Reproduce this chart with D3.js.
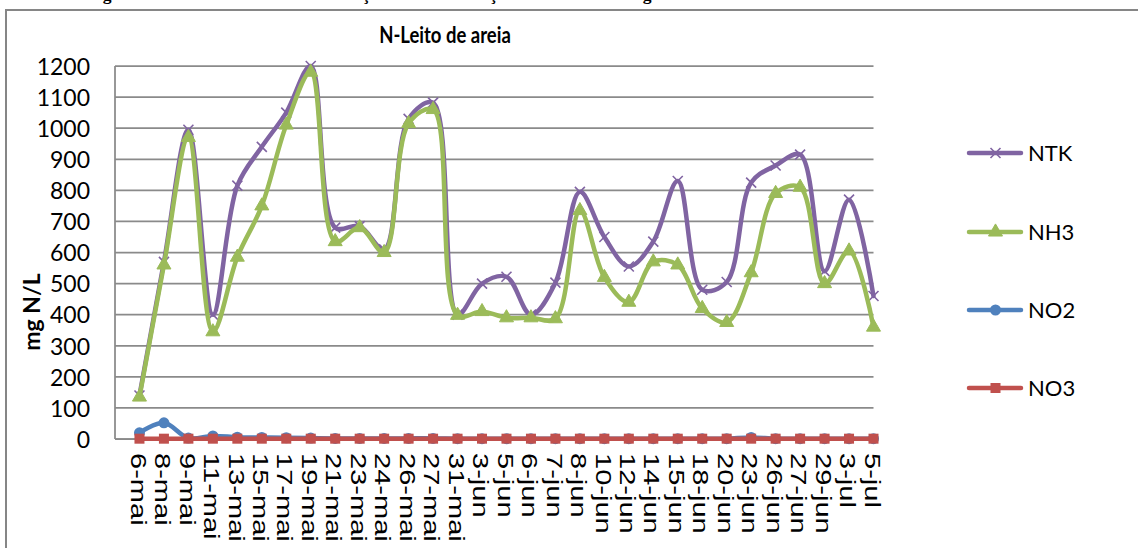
<!DOCTYPE html>
<html>
<head>
<meta charset="utf-8">
<script src="https://cdn.jsdelivr.net/npm/d3@7/dist/d3.min.js"></script>
<style>
  html, body { margin: 0; padding: 0; background: #fff; }
  svg { display: block; }
</style>
</head>
<body>
<svg id="chart" width="1138" height="548"></svg>
<script>
// Sampling dates (Portuguese short month names)
const categories = ["6-mai","8-mai","9-mai","11-mai","13-mai","15-mai","17-mai","19-mai","21-mai","23-mai","24-mai","26-mai","27-mai","31-mai",
  "3-jun","5-jun","6-jun","7-jun","8-jun","10-jun","12-jun","14-jun","15-jun","18-jun","20-jun","23-jun","26-jun","27-jun","29-jun",
  "3-jul","5-jul"];

// Concentrations in mg N/L
const ntk = [140,570,995,400,815,940,1050,1200,680,685,610,1030,1082,400,500,522,400,503,795,650,555,635,830,480,505,825,880,915,540,770,460];
const nh3 = [135,560,970,345,585,750,1010,1180,635,680,600,1015,1060,398,410,390,390,387,735,520,440,570,560,420,375,535,790,810,500,605,360];
const no2 = [20,52,3,10,6,5,4,3,2,2,2,2,2,1,1,1,1,1,1,1,1,1,1,1,1,5,1,1,1,1,1];
const no3 = [1,1,1,1,1,1,1,1,1,1,1,1,1,1,1,1,1,1,1,1,1,1,1,1,1,1,1,1,1,1,1];

const yTicks = [0,100,200,300,400,500,600,700,800,900,1000,1100,1200];
const seriesNames = ["NTK","NH3","NO2","NO3"];

const series = [
  { name: seriesNames[0], values: ntk, color: "#8064A2", marker: "x" },
  { name: seriesNames[1], values: nh3, color: "#9BBB59", marker: "triangle" },
  { name: seriesNames[2], values: no2, color: "#4F81BD", marker: "circle" },
  { name: seriesNames[3], values: no3, color: "#C0504D", marker: "square" }
];

const svg = d3.select("#chart");

// Figure caption above the chart frame (mostly outside the page)
svg.append("text")
  .attr("x", 87).attr("y", -0.5)
  .attr("font-family", "'Liberation Serif', 'Times New Roman', serif")
  .attr("font-weight", "bold")
  .attr("font-size", 17.6)
  .attr("fill", "#000")
  .text("Figura 12 – Monitoramento da variação da concentração das formas nitrogenadas");

// Chart frame
svg.append("rect")
  .attr("x", 6).attr("y", 10)
  .attr("width", 1140).attr("height", 545)
  .attr("fill", "none")
  .attr("stroke", "#868686")
  .attr("stroke-width", 2);

const plot = { left: 115, right: 873.5, top: 66, bottom: 439 };

const x = d3.scaleLinear()
  .domain([-1, categories.length - 1])
  .range([plot.left, plot.right]);

const y = d3.scaleLinear()
  .domain([0, 1200])
  .range([plot.bottom, plot.top]);

// Horizontal gridlines
svg.append("g")
  .selectAll("line")
  .data(yTicks)
  .join("line")
  .attr("x1", plot.left).attr("x2", plot.right)
  .attr("y1", d => y(d)).attr("y2", d => y(d))
  .attr("stroke", "#8a8a8a")
  .attr("stroke-width", 1.75);

// Vertical axis line
svg.append("line")
  .attr("x1", plot.left).attr("x2", plot.left)
  .attr("y1", plot.top).attr("y2", plot.bottom)
  .attr("stroke", "#8a8a8a")
  .attr("stroke-width", 1.75);

// Y axis tick labels
const yAxis = d3.axisLeft(y).tickValues(yTicks).tickSize(0).tickPadding(0).tickFormat(d3.format("d"));
const yAxisG = svg.append("g")
  .attr("transform", `translate(90,0)`)
  .call(yAxis);
yAxisG.select(".domain").remove();
yAxisG.selectAll("text")
  .attr("font-family", "Lato, 'Open Sans', sans-serif")
  .attr("font-size", 23)
  .attr("fill", "#000")
  .attr("dy", "0.36em");

// Y axis title
svg.append("text")
  .attr("transform", "translate(40,312) rotate(-90)")
  .attr("text-anchor", "middle")
  .attr("font-family", "Lato, 'Open Sans', sans-serif")
  .attr("font-weight", "bold")
  .attr("font-size", 23)
  .attr("fill", "#000")
  .text("mg N/L");

// Chart title
svg.append("text")
  .attr("x", 0).attr("y", 0)
  .attr("text-anchor", "middle")
  .attr("font-family", "Lato, 'Open Sans', sans-serif")
  .attr("font-weight", "bold")
  .attr("font-size", 18.5)
  .attr("transform", "translate(445,43) scale(1,1.25)")
  .attr("fill", "#000")
  .text("N-Leito de areia");

// Category labels, rotated to read top-to-bottom
const xAxis = d3.axisBottom(x)
  .tickValues(d3.range(categories.length))
  .tickSize(0)
  .tickFormat(i => categories[i]);
const xAxisG = svg.append("g").call(xAxis);
xAxisG.select(".domain").remove();
xAxisG.selectAll(".tick")
  .attr("transform", d => `translate(${x(d) - 8.8},453)`);
xAxisG.selectAll(".tick text")
  .attr("x", 0).attr("y", 0).attr("dy", 0)
  .attr("text-anchor", "start")
  .attr("transform", "rotate(90) scale(1.32,1)")
  .attr("font-family", "'Liberation Sans', Arial, sans-serif")
  .attr("font-size", 22)
  .attr("fill", "#000");

// Horizontal axis line
svg.append("line")
  .attr("x1", plot.left).attr("x2", plot.right)
  .attr("y1", plot.bottom).attr("y2", plot.bottom)
  .attr("stroke", "#8a8a8a")
  .attr("stroke-width", 1.75);

// Marker shapes
function drawMarker(g, type, color, cx, cy) {
  if (type === "x") {
    const s = 5;
    g.append("path")
      .attr("d", `M${cx - s},${cy - s}L${cx + s},${cy + s}M${cx - s},${cy + s}L${cx + s},${cy - s}`)
      .attr("stroke", color).attr("stroke-width", 1.6).attr("fill", "none");
  } else if (type === "triangle") {
    g.append("path")
      .attr("d", d3.symbol(d3.symbolTriangle, 85)())
      .attr("transform", `translate(${cx},${cy})`)
      .attr("fill", color).attr("stroke", color).attr("stroke-width", 1);
  } else if (type === "circle") {
    g.append("circle")
      .attr("cx", cx).attr("cy", cy).attr("r", 5.5)
      .attr("fill", color);
  } else if (type === "square") {
    g.append("rect")
      .attr("x", cx - 5).attr("y", cy - 5)
      .attr("width", 10).attr("height", 10)
      .attr("fill", color);
  }
}

const line = d3.line()
  .x((d, i) => x(i))
  .y(d => y(d))
  .curve(d3.curveCatmullRom.alpha(0.5));

series.forEach(s => {
  const g = svg.append("g");
  g.append("path")
    .attr("d", line(s.values))
    .attr("fill", "none")
    .attr("stroke", s.color)
    .attr("stroke-width", 4.5)
    .attr("stroke-linejoin", "round")
    .attr("stroke-linecap", "round");
  s.values.forEach((v, i) => drawMarker(g, s.marker, s.color, x(i), y(v)));
});

// Legend
const legendY = [153, 232, 310, 388];
series.forEach((s, k) => {
  const g = svg.append("g");
  g.append("line")
    .attr("x1", 969).attr("x2", 1021)
    .attr("y1", legendY[k]).attr("y2", legendY[k])
    .attr("stroke", s.color).attr("stroke-width", 4.5)
    .attr("stroke-linecap", "round");
  drawMarker(g, s.marker, s.color, 995.5, legendY[k]);
  g.append("text")
    .attr("x", 1028).attr("y", legendY[k])
    .attr("dy", "0.36em")
    .attr("font-family", "Lato, 'Open Sans', sans-serif")
    .attr("font-size", 22)
    .attr("fill", "#000")
    .text(s.name);
});
</script>
</body>
</html>
